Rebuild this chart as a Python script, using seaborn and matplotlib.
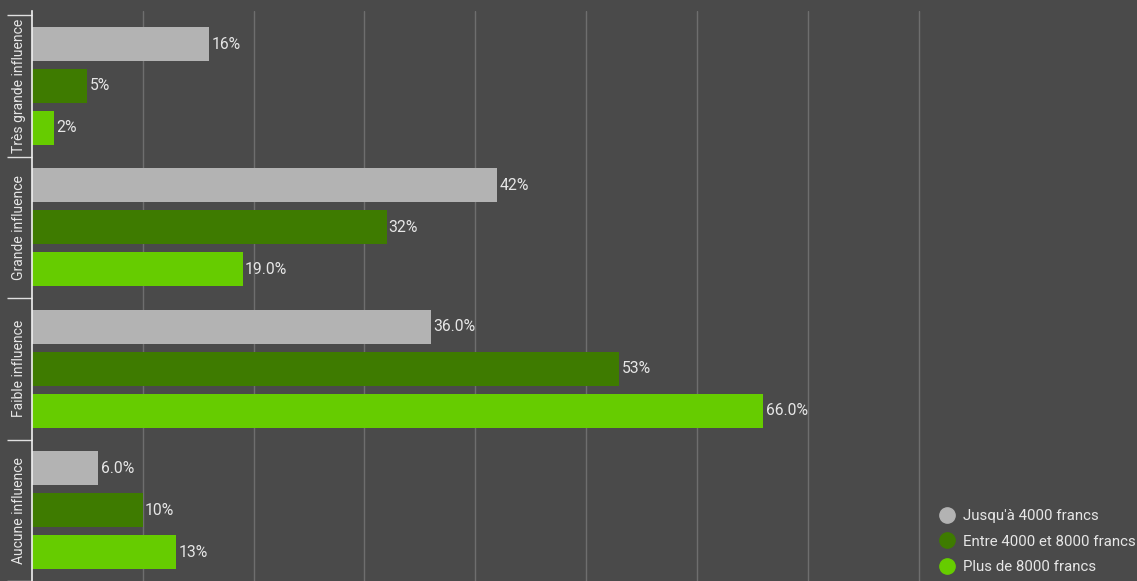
import pandas as pd
import seaborn as sns
import matplotlib.pyplot as plt
from matplotlib.lines import Line2D

# Data
categories = ["Très grande influence", "Grande influence", "Faible influence", "Aucune influence"]
series_names = ["Jusqu'à 4000 francs", "Entre 4000 et 8000 francs", "Plus de 8000 francs"]
low_income = [16, 42, 36, 6]
mid_income = [5, 32, 53, 10]
high_income = [2, 19, 66, 13]
low_labels = ["16%", "42%", "36.0%", "6.0%"]
mid_labels = ["5%", "32%", "53%", "10%"]
high_labels = ["2%", "19.0%", "66.0%", "13%"]

bg = "#4a4a4a"
colors = ["#b3b3b3", "#3e7b00", "#66cc00"]
text_col = "#e6e6e6"

# Long format table for seaborn
rows = []
for name, vals in zip(series_names, [low_income, mid_income, high_income]):
    for cat, v in zip(categories, vals):
        rows.append({"Influence": cat, "Revenu": name, "Part": v})
df = pd.DataFrame(rows)

sns.set_style("dark")
plt.rcParams["font.family"] = ["Roboto", "DejaVu Sans"]

fig = plt.figure(figsize=(11.37, 5.81), dpi=100, facecolor=bg)
ax = fig.add_axes([32 / 1137, 0, 1 - 32 / 1137, (581 - 11) / 581])
ax.set_facecolor(bg)

sns.barplot(data=df, y="Influence", x="Part", hue="Revenu", order=categories,
            hue_order=series_names, palette=colors, orient="h", width=0.89, gap=0.19,
            ax=ax, legend=False, saturation=1, edgecolor="none")

# Value labels
for cont, labs in zip(ax.containers, [low_labels, mid_labels, high_labels]):
    ax.bar_label(cont, labels=labs, padding=1.5, color=text_col, fontsize=11.3)

# Axes and grid
ax.set_xlim(0, 99.7)
ax.set_ylim(3.5, -0.53)
ax.set_xticks(range(10, 90, 10))
ax.set_xticklabels([])
ax.tick_params(axis="x", length=0)
ax.grid(axis="x", color="#6e6e6e", linewidth=1)
ax.grid(axis="y", visible=False)
ax.set_axisbelow(True)
ax.set_xlabel("")
ax.set_ylabel("")

for s in ["top", "right", "bottom"]:
    ax.spines[s].set_visible(False)
ax.spines["left"].set_color("#f0f0f0")
ax.spines["left"].set_linewidth(1.2)

# Category labels rotated, with separator ticks between groups
ax.set_yticks(range(len(categories)))
ax.set_yticklabels(categories, rotation=90, va="center", color=text_col, fontsize=10)
ax.tick_params(axis="y", which="major", length=0, pad=4)
ax.set_yticks([i - 0.5 for i in range(len(categories) + 1)], minor=True)
ax.tick_params(axis="y", which="minor", left=True, length=18, width=1, color="#e0e0e0")

# Legend
handles = [Line2D([0], [0], marker="o", linestyle="", markersize=11,
                  markerfacecolor=c, markeredgecolor=c) for c in colors]
leg = ax.legend(handles, series_names, loc="lower right", frameon=False,
                fontsize=10.8, handletextpad=0.3, labelspacing=0.75,
                borderaxespad=0.0, bbox_to_anchor=(1.004, 0.002), handlelength=1.5)
for t in leg.get_texts():
    t.set_color(text_col)

fig.savefig("out.png", dpi=100, facecolor=bg)
